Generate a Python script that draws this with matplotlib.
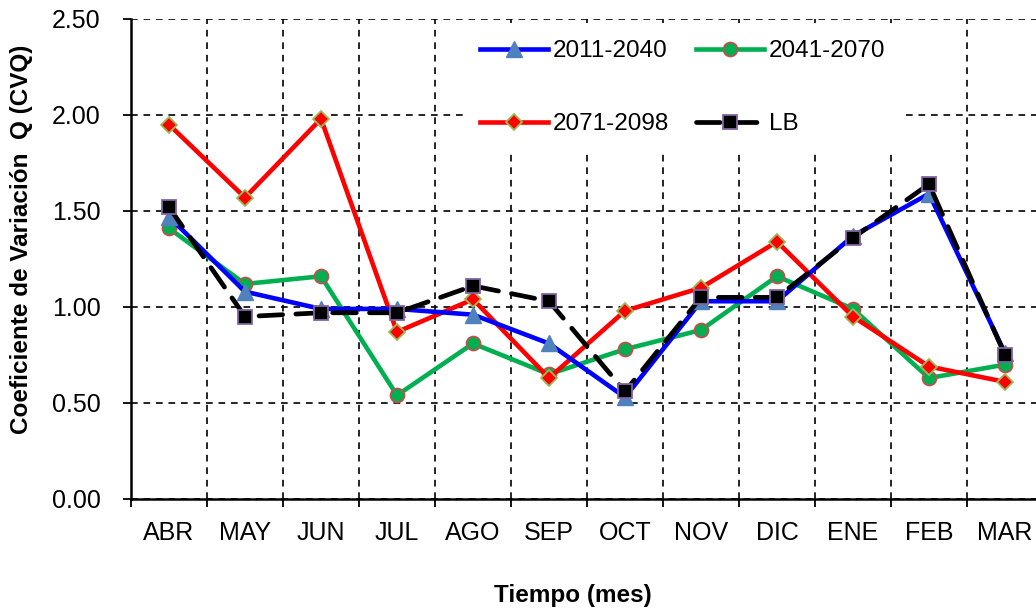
import numpy as np
import matplotlib
matplotlib.use('Agg')
import matplotlib.pyplot as plt
from matplotlib.ticker import FixedLocator, FixedFormatter, FormatStrFormatter

font_size = 18

plt.rcParams['font.family'] = ['Liberation Sans', 'DejaVu Sans']
plt.rcParams['font.size'] = font_size

# data
meses = ['ABR', 'MAY', 'JUN', 'JUL', 'AGO', 'SEP', 'OCT', 'NOV', 'DIC', 'ENE', 'FEB', 'MAR']
cvq_2011_2040 = [1.47, 1.08, 0.99, 0.99, 0.96, 0.81, 0.53, 1.03, 1.03, 1.37, 1.59, 0.76]
cvq_2041_2070 = [1.41, 1.12, 1.16, 0.54, 0.81, 0.65, 0.78, 0.88, 1.16, 0.99, 0.63, 0.70]
cvq_2071_2098 = [1.95, 1.57, 1.98, 0.87, 1.04, 0.63, 0.98, 1.10, 1.34, 0.95, 0.69, 0.61]
cvq_lb = [1.52, 0.95, 0.97, 0.97, 1.11, 1.03, 0.56, 1.05, 1.05, 1.36, 1.64, 0.75]

x = np.arange(len(meses))

fig = plt.figure(figsize=(10.36, 6.10), dpi=100)
ax = fig.add_axes([131/1036, 111/610, 912/1036, 480/610])

l1, = ax.plot(x, cvq_2011_2040, color='#0000FF', lw=3.3, marker='^', ms=11,
              markerfacecolor='#4F81BD', markeredgecolor='#4F81BD', label='2011-2040', zorder=4)
l2, = ax.plot(x, cvq_2041_2070, color='#00B050', lw=3.3, marker='o', ms=10,
              markerfacecolor='#00B050', markeredgecolor='#C0504D', markeredgewidth=1.3,
              label='2041-2070', zorder=2)
l3, = ax.plot(x, cvq_2071_2098, color='#FF0000', lw=3.3, marker='D', ms=8,
              markerfacecolor='#FF0000', markeredgecolor='#9BBB59', markeredgewidth=1.3,
              label='2071-2098', zorder=3)
l4, = ax.plot(x, cvq_lb, color='black', lw=3.4, ls=(0, (5, 2.8)), dash_capstyle='round',
              marker='s', ms=10, markerfacecolor='black', markeredgecolor='#8064A2',
              markeredgewidth=1.3, label='LB', zorder=5)

ax.set_xlim(-0.5, len(meses) - 0.5)
ax.set_ylim(0, 2.5)
ax.set_yticks(np.arange(0, 2.51, 0.5))
ax.yaxis.set_major_formatter(FormatStrFormatter('%.2f'))

# ticks and vertical grid at category borders, labels at centres
ax.xaxis.set_major_locator(FixedLocator(np.arange(-0.5, len(meses), 1.0)))
ax.xaxis.set_major_formatter(FixedFormatter([''] * (len(meses) + 1)))
ax.xaxis.set_minor_locator(FixedLocator(x))
ax.xaxis.set_minor_formatter(FixedFormatter(meses))
ax.tick_params(axis='x', which='minor', length=0, pad=16)
ax.tick_params(axis='x', which='major', length=6, width=1.3, direction='out')
ax.tick_params(axis='y', length=6, width=1.3, direction='out', pad=16)

ax.grid(True, which='major', color='black', lw=1.2, ls=(0, (4, 3.5)))
ax.set_axisbelow(True)

for s in ['top', 'right']:
    ax.spines[s].set_visible(False)
ax.spines['left'].set_linewidth(1.8)
ax.spines['bottom'].set_linewidth(1.8)

ax.set_ylabel('Coeficiente de Variación  Q (CVQ)', fontweight='bold', fontsize=17.5)
ax.yaxis.set_label_coords(-0.107, 0.54)
ax.set_xlabel('Tiempo (mes)', fontweight='bold', fontsize=17.5)
ax.xaxis.set_label_coords(0.4846, -0.177)

# legend fills column-wise, so order gives rows 2011/2041 and 2071/LB
leg = ax.legend(handles=[l1, l3, l2, l4], ncol=2, loc='upper left',
                bbox_to_anchor=(463/1036, 1 - 23/610), bbox_transform=fig.transFigure,
                fontsize=17.5, frameon=True, facecolor='white', edgecolor='none',
                framealpha=1, fancybox=False, handlelength=2.8, handletextpad=0.2,
                columnspacing=1.1, labelspacing=2.1, borderpad=0.7, borderaxespad=0)
leg.set_zorder(10)

plt.savefig('out.png', dpi=100)
